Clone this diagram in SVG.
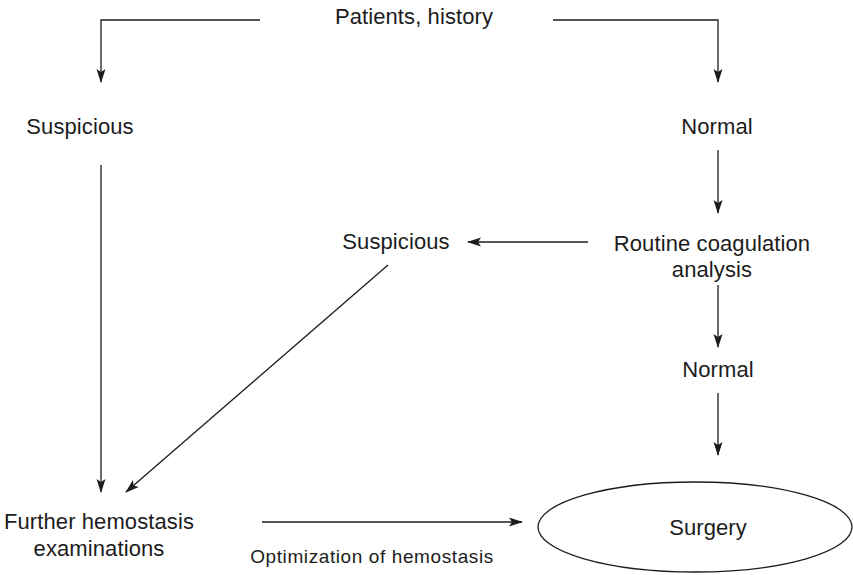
<svg xmlns="http://www.w3.org/2000/svg" width="853" height="575" viewBox="0 0 853 575">
  <style>
    .lbl { font-family: "Liberation Sans", Arial, sans-serif; font-size: 22px; letter-spacing: 0.1px; fill: #1c1c1c; text-anchor: middle; }
    .small { font-size: 19px; letter-spacing: 0.6px; }
    .edge { fill: none; stroke: #1c1c1c; stroke-width: 1.3; marker-end: url(#arr); }
    .shape { fill: #fff; stroke: #1c1c1c; stroke-width: 1.3; }
  </style>
  <defs>
    <marker id="arr" viewBox="0 0 14 10" refX="13" refY="5" markerWidth="14" markerHeight="10" markerUnits="userSpaceOnUse" orient="auto">
      <path d="M0,0.5 L14,5 L0,9.5 L3,5 Z" fill="#1c1c1c"/>
    </marker>
  </defs>
  <rect width="853" height="575" fill="#fff"/>

  <g id="connectors">
    <path class="edge" d="M260,20 H101 V82"/>
    <path class="edge" d="M553,20 H718 V82"/>
    <path class="edge" d="M101,165 V492"/>
    <path class="edge" d="M718,150 V213"/>
    <path class="edge" d="M588,242 H468"/>
    <path class="edge" d="M388,265 L126,492"/>
    <path class="edge" d="M718,285 V347"/>
    <path class="edge" d="M718,393 V455"/>
    <path class="edge" d="M262,522 H522"/>
  </g>

  <g id="patients-history">
    <text class="lbl" x="414" y="24">Patients, history</text>
  </g>
  <g id="suspicious-history">
    <text class="lbl" x="80" y="134">Suspicious</text>
  </g>
  <g id="normal-history">
    <text class="lbl" x="717" y="134">Normal</text>
  </g>
  <g id="routine-coagulation">
    <text class="lbl" x="712" y="251">Routine coagulation</text>
    <text class="lbl" x="712" y="277">analysis</text>
  </g>
  <g id="suspicious-coagulation">
    <text class="lbl" x="396" y="249">Suspicious</text>
  </g>
  <g id="normal-coagulation">
    <text class="lbl" x="718" y="377">Normal</text>
  </g>
  <g id="further-examinations">
    <text class="lbl" x="99" y="529">Further hemostasis</text>
    <text class="lbl" x="99" y="556">examinations</text>
  </g>
  <g id="optimization-label">
    <text class="lbl small" x="372" y="563">Optimization of hemostasis</text>
  </g>
  <g id="surgery">
    <ellipse class="shape" cx="695" cy="527" rx="157" ry="45"/>
    <text class="lbl" x="708" y="535">Surgery</text>
  </g>
</svg>
